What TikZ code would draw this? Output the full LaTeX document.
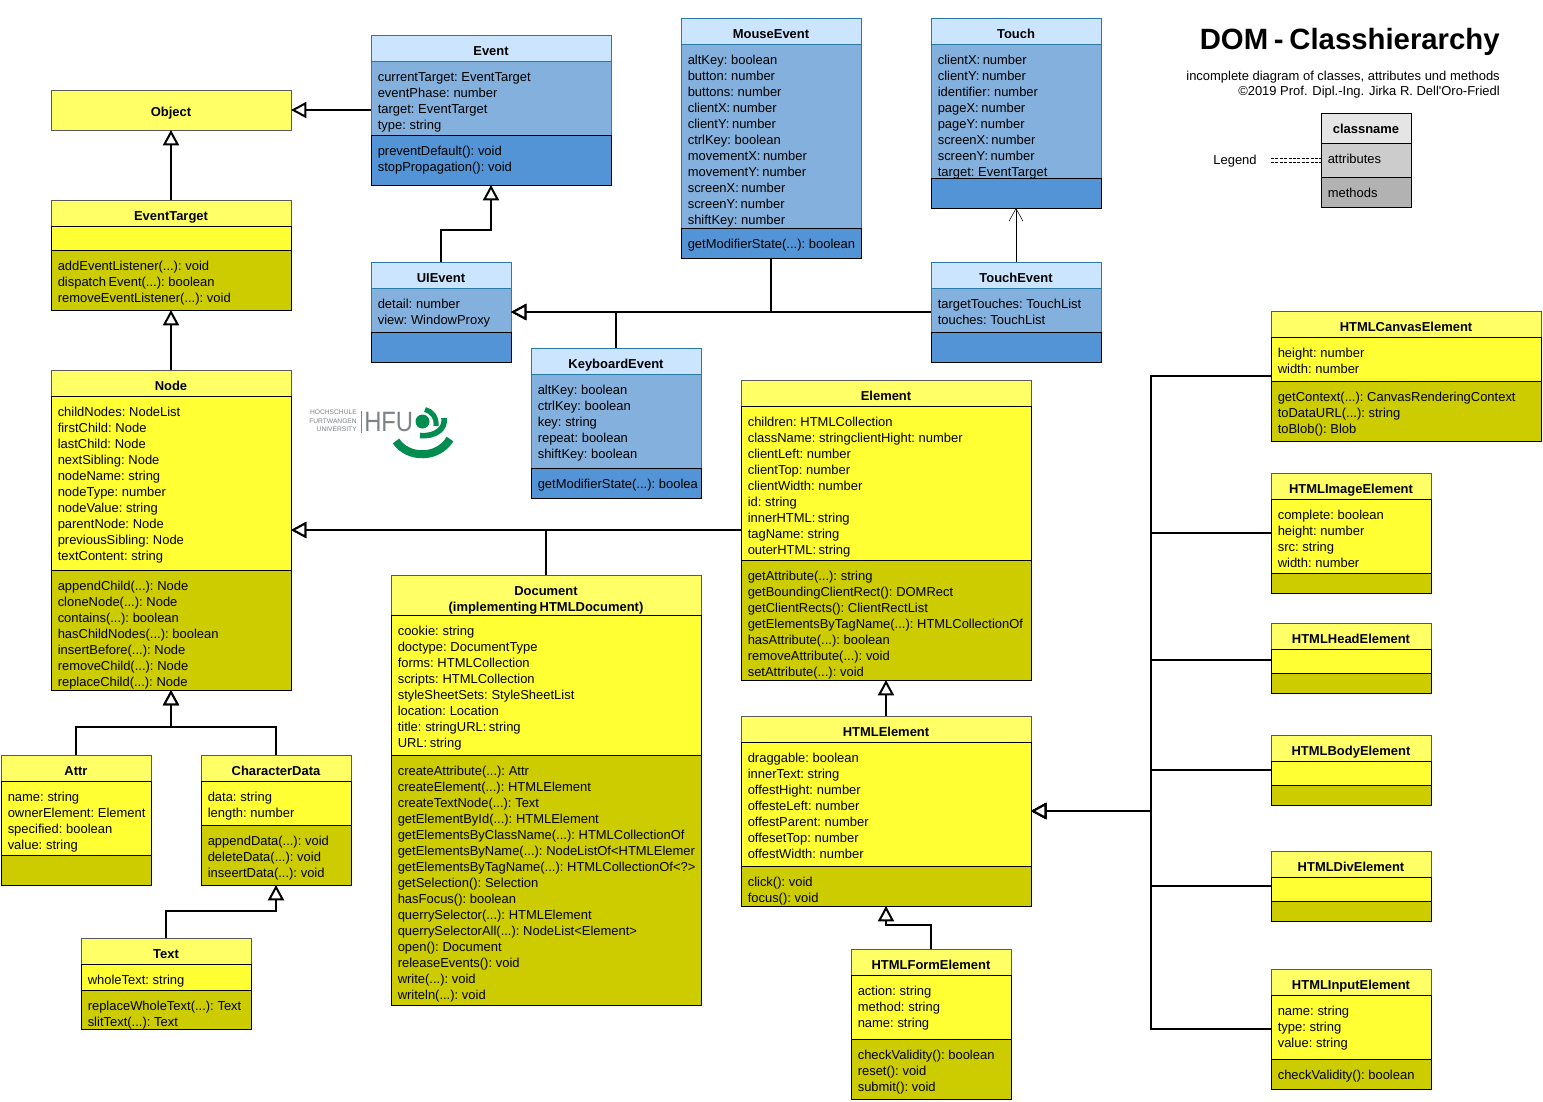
\documentclass[tikz,border=0pt]{standalone}
\usepackage{fontspec}
\setmainfont[WordSpace=0.7]{Liberation Sans}
\newfontfamily\subfont{Liberation Sans}
\usetikzlibrary{arrows.meta}

\definecolor{yellowh}{HTML}{FFFF66}
\definecolor{yellowa}{HTML}{FFFF33}
\definecolor{yellowm}{HTML}{CCCC00}
\definecolor{blueh}{HTML}{CCE5FF}
\definecolor{bluea}{HTML}{84B0DD}
\definecolor{bluem}{HTML}{5294D6}
\definecolor{blueline}{HTML}{2A7AA8}
\definecolor{hfugreen}{HTML}{008D4F}
\definecolor{hfugray}{HTML}{7C8285}

\tikzset{
  part/.style={anchor=north west,inner sep=0pt,outer sep=0pt,line width=0.75pt},
  yellowhead/.style={part,draw=black!65,fill=yellowh},
  yellowattr/.style={part,draw=black,fill=yellowa},
  yellowmeth/.style={part,draw=black,fill=yellowm},
  bluehead/.style={part,draw=blueline,fill=blueh},
  blueattr/.style={part,draw=blueline,fill=bluea},
  bluemeth/.style={part,draw=black,fill=bluem},
  grayhead/.style={part,draw=black,fill=black!10},
  grayattr/.style={part,draw=black,fill=black!20},
  graymeth/.style={part,draw=black,fill=black!30},
  members/.style={anchor=north west,inner sep=0pt,align=left,font=\fontsize{9.72}{12}\selectfont},
  classname/.style={anchor=north,inner sep=0pt,align=center,font=\fontsize{9.72}{12}\selectfont\bfseries},
  plain/.style={inner sep=0pt,font=\fontsize{9.72}{12}\selectfont},
  inherit/.style={line width=1.5pt,-{Triangle[open,fill=white,length=11.5pt,width=12pt]}},
  assoc/.style={line width=0.75pt,-{Straight Barb[length=9.5pt,width=10.5pt,line width=0.4pt]}},
  legendline/.style={line width=0.5pt,dash pattern=on 2.2pt off 1.1pt},
}

% palette, name, x1/y1/x2/y2/y3/y4, title, attributes, methods
\newcommand{\umlclass}[6]{
  \foreach \xa/\ya/\xb/\yb/\yc/\yd in {#3} {
    \node[#1head,minimum width={(\xb-\xa)*0.75pt},minimum height={(\yb-\ya)*0.75pt}] (#2-head) at (\xa,\ya) {};
    \node[#1attr,minimum width={(\xb-\xa)*0.75pt},minimum height={(\yc-\yb)*0.75pt}] (#2-attr) at (\xa,\yb) {};
    \node[#1meth,minimum width={(\xb-\xa)*0.75pt},minimum height={(\yd-\yc)*0.75pt}] (#2-meth) at (\xa,\yc) {};
    \node[part,minimum width={(\xb-\xa)*0.75pt},minimum height={(\yd-\ya)*0.75pt}] (#2) at (\xa,\ya) {};
    \node[classname] (#2-title) at ({(\xa+\xb)/2},{\ya+9}) {\strut #4};
    \node[members] (#2-attrs) at ({\xa+6.5},{\yb+8.6}) {\strut #5};
    \node[members] (#2-meths) at ({\xa+6.5},{\yc+8.6}) {\strut #6};
  }
}

\begin{document}
\begin{tikzpicture}[x=0.75pt,y=-0.75pt]
  \useasboundingbox (0,0) rectangle (1543,1101);

  % title and legend
  \node[anchor=east,inner sep=0pt,font=\fontsize{22}{26}\selectfont\bfseries] (heading) at (1500,42) {DOM - Classhierarchy};
  \node[anchor=north east,inner sep=0pt,align=right,font=\subfont\fontsize{9.72}{11.25}\selectfont] (subheading) at (1500,70.5)
    {incomplete diagram of classes, attributes und methods\\\textcopyright 2019 Prof. Dipl.-Ing. Jirka R. Dell\textquotesingle Oro-Friedl};
  \umlclass{gray}{legend}{1321/113/1411/143/177/207}{classname}{attributes}{methods}
  \node[plain] (legendlabel) at (1235,161.5) {Legend};
  \coordinate (legendup) at (1271,158);
  \coordinate (legenddown) at (1271,162);
  \draw[legendline] (legendup) -- (legendup -| legend.west);
  \draw[legendline] (legenddown) -- (legenddown -| legend.west);

  % events
  \umlclass{blue}{event}{371/35/611/61/135/185}{Event}
    {currentTarget: EventTarget\\eventPhase: number\\target: EventTarget\\type: string}
    {preventDefault(): void\\stopPropagation(): void}
  \umlclass{blue}{uievent}{371/262/511/288/332/362}{UIEvent}
    {detail: number\\view: WindowProxy}{}
  \umlclass{blue}{mouseevent}{681/18/861/44/228/258}{MouseEvent}
    {altKey: boolean\\button: number\\buttons: number\\clientX: number\\clientY: number\\ctrlKey: boolean\\movementX: number\\movementY: number\\screenX: number\\screenY: number\\shiftKey: number}
    {getModifierState(...): boolean}
  \umlclass{blue}{touch}{931/18/1101/44/178/208}{Touch}
    {clientX: number\\clientY: number\\identifier: number\\pageX: number\\pageY: number\\screenX: number\\screenY: number\\target: EventTarget}{}
  \umlclass{blue}{touchevent}{931/262/1101/288/332/362}{TouchEvent}
    {targetTouches: TouchList\\touches: TouchList}{}
  \umlclass{blue}{keyboardevent}{531/348/701/374/468/498}{KeyboardEvent}
    {altKey: boolean\\ctrlKey: boolean\\key: string\\repeat: boolean\\shiftKey: boolean}
    {getModifierState(...): boolea}

  % nodes
  \node[yellowhead,minimum width=180pt,minimum height=30pt] (object) at (51,90) {};
  \node[classname] (object-title) at (171,105) {\strut Object};
  \umlclass{yellow}{eventtarget}{51/200/291/226/250/310}{EventTarget}
    {}{addEventListener(...): void\\dispatch Event(...): boolean\\removeEventListener(...): void}
  \umlclass{yellow}{node}{51/370/291/396/570/690}{Node}
    {childNodes: NodeList\\firstChild: Node\\lastChild: Node\\nextSibling: Node\\nodeName: string\\nodeType: number\\nodeValue: string\\parentNode: Node\\previousSibling: Node\\textContent: string}
    {appendChild(...): Node\\cloneNode(...): Node\\contains(...): boolean\\hasChildNodes(...): boolean\\insertBefore(...): Node\\removeChild(...): Node\\replaceChild(...): Node}
  \umlclass{yellow}{attr}{1/755/151/781/855/885}{Attr}
    {name: string\\ownerElement: Element\\specified: boolean\\value: string}{}
  \umlclass{yellow}{characterdata}{201/755/351/781/825/885}{CharacterData}
    {data: string\\length: number}
    {appendData(...): void\\deleteData(...): void\\inseertData(...): void}
  \umlclass{yellow}{text}{81/938/251/964/990/1029}{Text}
    {wholeText: string}
    {replaceWholeText(...): Text\\slitText(...): Text}
  \umlclass{yellow}{document}{391/575/701/615/755/1005}{Document\\(implementing HTMLDocument)}
    {cookie: string\\doctype: DocumentType\\forms: HTMLCollection\\scripts: HTMLCollection\\styleSheetSets: StyleSheetList\\location: Location\\title: stringURL: string\\URL: string}
    {createAttribute(...): Attr\\createElement(...): HTMLElement\\createTextNode(...): Text\\getElementById(...): HTMLElement\\getElementsByClassName(...): HTMLCollectionOf\\getElementsByName(...): NodeListOf<HTMLElemer\\getElementsByTagName(...): HTMLCollectionOf<?>\\getSelection(): Selection\\hasFocus(): boolean\\querrySelector(...): HTMLElement\\querrySelectorAll(...): NodeList<Element>\\open(): Document\\releaseEvents(): void\\write(...): void\\writeln(...): void}
  \umlclass{yellow}{element}{741/380/1031/406/560/680}{Element}
    {children: HTMLCollection\\className: stringclientHight: number\\clientLeft: number\\clientTop: number\\clientWidth: number\\id: string\\innerHTML: string\\tagName: string\\outerHTML: string}
    {getAttribute(...): string\\getBoundingClientRect(): DOMRect\\getClientRects(): ClientRectList\\getElementsByTagName(...): HTMLCollectionOf\\hasAttribute(...): boolean\\removeAttribute(...): void\\setAttribute(...): void}
  \umlclass{yellow}{htmlelement}{741/716/1031/742/866/906}{HTMLElement}
    {draggable: boolean\\innerText: string\\offestHight: number\\offesteLeft: number\\offestParent: number\\offesetTop: number\\offestWidth: number}
    {click(): void\\focus(): void}
  \umlclass{yellow}{htmlform}{851/949/1011/975/1039/1099}{HTMLFormElement}
    {action: string\\method: string\\name: string}
    {checkValidity(): boolean\\reset(): void\\submit(): void}
  \umlclass{yellow}{htmlcanvas}{1271/311/1541/337/381/441}{HTMLCanvasElement}
    {height: number\\width: number}
    {getContext(...): CanvasRenderingContext\\toDataURL(...): string\\toBlob(): Blob}
  \umlclass{yellow}{htmlimage}{1271/473/1431/499/573/593}{HTMLImageElement}
    {complete: boolean\\height: number\\src: string\\width: number}{}
  \umlclass{yellow}{htmlhead}{1271/623/1431/649/673/693}{HTMLHeadElement}{}{}
  \umlclass{yellow}{htmlbody}{1271/735/1431/761/785/805}{HTMLBodyElement}{}{}
  \umlclass{yellow}{htmldiv}{1271/851/1431/877/901/921}{HTMLDivElement}{}{}
  \umlclass{yellow}{htmlinput}{1271/969/1431/995/1059/1089}{HTMLInputElement}
    {name: string\\type: string\\value: string}
    {checkValidity(): boolean}

  % logo
  \node[anchor=north east,inner sep=0pt,align=right,text=hfugray,font=\fontsize{5}{6.2}\selectfont] (logotext) at (357,410)
    {HOCHSCHULE\\FURTWANGEN\\UNIVERSITY};
  \draw[hfugray,line width=0.5pt] (361.5,411) -- (361.5,433);
  \node[anchor=west,inner sep=0pt,text=hfugray,font=\fontsize{21}{24}\selectfont] (logohfu) at (364,422) {\scalebox{0.85}[1]{HFU}};
  \fill[hfugreen] (422.5,421.5) circle (7);
  \draw[hfugreen,line width=3.8pt] (425,409.5) .. controls (432,411) and (437,418) .. (436,426);
  \draw[hfugreen,line width=4.2pt] (444,418) .. controls (446,428) and (436,437) .. (420,435.5);
  \draw[hfugreen,line width=6pt] (396,441) .. controls (408,459) and (438,459) .. (450,439);

  % connectors
  \coordinate (bus) at (1151,811);
  \coordinate (rowh) at (1271,660);
  \draw[inherit] (eventtarget.north) -- (object.south);
  \draw[inherit] (event.west) -- (object.east);
  \draw[inherit] (node.north) -- (eventtarget.south);
  \draw[inherit] (attr.north) |- (171,727) -- (node.south);
  \draw[inherit] (characterdata.north) |- (171,727) -- (node.south);
  \draw[inherit] (text.north) |- (276,911) -- (characterdata.south);
  \draw[inherit] (uievent.north) |- (491,230) -- (event.south);
  \draw[inherit] (mouseevent.south) |- (uievent.east);
  \draw[inherit] (keyboardevent.north) |- (uievent.east);
  \draw[inherit] (touchevent.west) -- (uievent.east);
  \draw[assoc] (touchevent.north) -- (touch.south);
  \draw[inherit] (element.west) -- (node.east);
  \draw[inherit] (document.north) |- (node.east);
  \draw[inherit] (htmlelement.north) -- (element.south);
  \draw[inherit] (htmlform.north) |- (886,925) -- (htmlelement.south);
  \draw[inherit] (htmlcanvas.west |- 0,376) -| (bus) -- (htmlelement.east);
  \draw[inherit] (htmlimage.west) -| (bus) -- (htmlelement.east);
  \draw[inherit] (rowh) -| (bus) -- (htmlelement.east);
  \draw[inherit] (htmlbody.west) -| (bus) -- (htmlelement.east);
  \draw[inherit] (htmldiv.west) -| (bus) -- (htmlelement.east);
  \draw[inherit] (htmlinput.west) -| (bus) -- (htmlelement.east);
\end{tikzpicture}
\end{document}
